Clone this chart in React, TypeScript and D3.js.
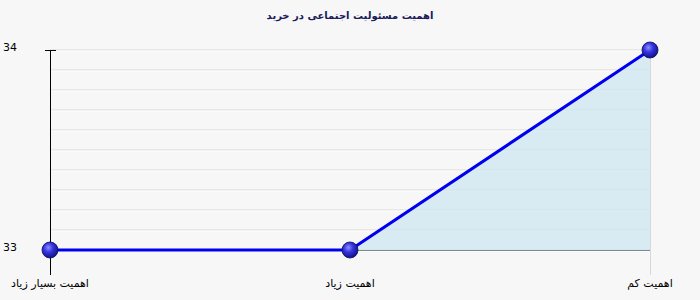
import React from "react";
import * as d3 from "d3";

const categories = ["اهمیت بسیار زیاد", "اهمیت زیاد", "اهمیت کم"];
const values = [33, 33, 34];
const yTicks = [33, 34];
const title = "اهمیت مسئولیت اجتماعی در خرید";

const W = 700, H = 300;
const left = 50, right = 650, top = 50, bottom = 250;

export default function App() {
  const x = d3.scalePoint<string>().domain(categories).range([left, right]);
  const y = d3.scaleLinear().domain([33, 34]).range([bottom, top]);
  const grid = d3.range(0, 11).map((i) => 33 + i / 10);
  const line = d3.line<number>().x((_, i) => x(categories[i])!).y((d) => y(d));
  const area = d3
    .area<number>()
    .x((_, i) => x(categories[i])!)
    .y0(y(33))
    .y1((d) => y(d));
  const font = "Tahoma, 'DejaVu Sans', sans-serif";
  return (
    <svg width={W} height={H} style={{ position: "absolute", left: 0, top: 0 }}>
      <defs>
        <radialGradient id="ball" cx="40%" cy="35%" r="65%">
          <stop offset="0%" stopColor="#8f8fff" />
          <stop offset="45%" stopColor="#3434e0" />
          <stop offset="100%" stopColor="#12128a" />
        </radialGradient>
      </defs>
      <rect x={0} y={0} width={W} height={H} fill="#f7f7f7" />
      <text x={350} y={19} textAnchor="middle" fontFamily={font} fontSize={10} fontWeight="bold" fill="#1a1a5a">
        {title}
      </text>
      {grid.map((g, i) => (
        <g key={i}>
          <line x1={left} x2={right} y1={y(g)} y2={y(g)} stroke="#d8d8d8" strokeWidth={1} />
          <line x1={left} x2={right} y1={y(g) + 1} y2={y(g) + 1} stroke="#ffffff" strokeWidth={1} />
        </g>
      ))}
      <path d={area(values)!} fill="#cde6f0" fillOpacity={0.75} />
      <line x1={left} x2={right} y1={bottom + 0.5} y2={bottom + 0.5} stroke="#7a8a90" strokeWidth={1} />
      <line x1={right + 0.5} x2={right + 0.5} y1={top} y2={275} stroke="#d8d8d8" strokeWidth={1} />
      <line x1={left + 0.5} x2={left + 0.5} y1={top} y2={275} stroke="#000" strokeWidth={1} />
      <line x1={45} x2={56} y1={top + 0.5} y2={top + 0.5} stroke="#000" strokeWidth={1} />
      {yTicks.map((t) => (
        <text key={t} x={3} y={y(t) + 1} fontFamily={font} fontSize={11} fill="#000">
          {t}
        </text>
      ))}
      {categories.map((c, i) => (
        <text key={c} x={x(c)!} y={287} textAnchor="middle" fontFamily={font} fontSize={11} fill="#000">
          {c}
        </text>
      ))}
      <path d={line(values)!} fill="none" stroke="#0000ee" strokeWidth={3} />
      {values.map((v, i) => (
        <circle key={i} cx={x(categories[i])!} cy={y(v)} r={8} fill="url(#ball)" stroke="#0b0b5a" strokeWidth={0.8} />
      ))}
    </svg>
  );
}
